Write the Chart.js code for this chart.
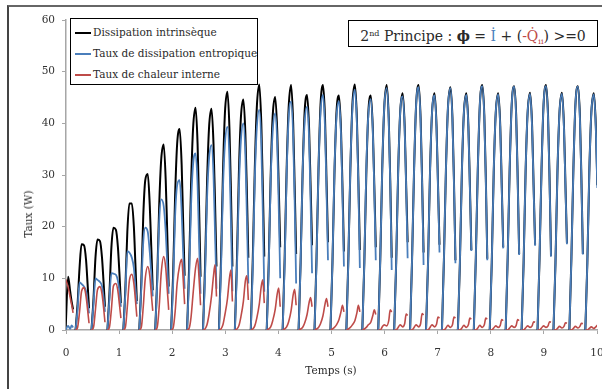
<!DOCTYPE html>
<html>
<head>
<meta charset="utf-8">
<script src="https://cdn.jsdelivr.net/npm/chart.js@4/dist/chart.umd.min.js"></script>
<style>
  html, body { margin: 0; padding: 0; background: #fff; }
  #wrap { position: relative; width: 602px; height: 389px; overflow: hidden; font-family: "DejaVu Serif", serif; color: #2a2a2a; }
  #frame { position: absolute; left: 7px; top: 5px; width: 700px; height: 500px; border-left: 2px solid #444; border-top: 2px solid #666; }
  canvas { position: absolute; left: 0; top: 0; }
  .legend { position: absolute; left: 70px; top: 18px; width: 186px; height: 65px; border: 1px solid #000; background: #fff; font-size: 10.5px; }
  .legend .row { position: absolute; left: 4px; height: 14px; line-height: 14px; white-space: nowrap; }
  .legend .swatch { display: inline-block; width: 16px; height: 2px; vertical-align: middle; margin-right: 2px; }
  .formula { position: absolute; left: 348px; top: 20px; width: 248px; height: 25px; border: 1px solid #000; background: #fff; font-size: 14px; line-height: 25px; text-align: center; white-space: nowrap; }
  .formula sup { font-size: 8px; vertical-align: 5px; }
  .formula sub { font-size: 8px; vertical-align: -3px; }
  .xtitle { position: absolute; left: 0; width: 662px; top: 364px; text-align: center; font-size: 10.5px; }
  .ytitle { position: absolute; left: 28px; top: 214px; transform: translate(-50%, -50%) rotate(-90deg); font-size: 10.5px; white-space: nowrap; }
</style>
</head>
<body>
<div id="wrap">
  <div id="frame"></div>
  <canvas id="chart" width="602" height="389"></canvas>
  <div class="legend">
    <div class="row" style="top:6px"><span class="swatch" style="background:#000"></span>Dissipation intrinsèque</div>
    <div class="row" style="top:27px"><span class="swatch" style="background:#4a7ebb"></span>Taux de dissipation entropique</div>
    <div class="row" style="top:48px"><span class="swatch" style="background:#be4b48"></span>Taux de chaleur interne</div>
  </div>
  <div class="formula">2<sup>nd</sup> Principe : <b>ϕ</b> = <span style="color:#4a7ebb">İ</span> + (<span style="color:#be4b48">-Q̇<sub>ii</sub></span>) &gt;=0</div>
  <div class="xtitle">Temps (s)</div>
  <div class="ytitle">Taux (W)</div>
</div>
<script>
// peak time of each cycle (s) and sample offsets around the peak (s)
const cycleTimes = [0.04, 0.34, 0.64, 0.94, 1.24, 1.54, 1.84, 2.14, 2.44, 2.74, 3.04, 3.34,
  3.64, 3.94, 4.24, 4.54, 4.84, 5.14, 5.44, 5.74, 6.04, 6.34, 6.64, 6.94, 7.24, 7.54,
  7.84, 8.14, 8.44, 8.74, 9.04, 9.34, 9.64, 9.94];
const phase = [-0.16, -0.122, -0.085, -0.047, 0, 0.038, 0.066, 0.094];

// one row per cycle, values (W) at the offsets above; the curve stops after each row
const dissipation = [
  [null, null, null, 0.3, 10.3, 7.5, 5.5, 4.0],
  [0, 5, 12, 16.6, 16.4, 13.5, 9, 4.2],
  [0, 6, 14, 17.5, 17.2, 14, 9.5, 4.5],
  [0, 7, 16, 19.8, 19.4, 16, 11, 5.2],
  [0, 8, 19, 24.5, 24.5, 20, 13, 5.6],
  [0, 9, 22, 29, 30.2, 24, 16, 7.7],
  [0, 10, 24, 33, 35.9, 29, 19, 8.4],
  [0, 11, 26, 36, 38.9, 32, 21, 10.5],
  [0, 12, 28, 39, 43, 36, 24, 10.3],
  [0, 12, 28, 39, 42.8, 36, 25, 12.3],
  [0, 13, 30, 42, 46.1, 39, 27, 12.3],
  [0, 13, 30, 41, 44.6, 38, 27, 14],
  [0, 14, 31, 43, 47.5, 40, 28, 14.2],
  [0, 13, 30, 41.5, 45.1, 38.5, 28, 16],
  [0, 14, 31, 43, 47.4, 40, 28, 14.7],
  [0, 13, 30, 42, 45.5, 39, 28, 16.4],
  [0, 14, 31, 43.5, 47.4, 41, 29, 17],
  [0, 13, 30, 42, 45.4, 39, 28, 15.2],
  [0, 14, 31, 43.5, 47.5, 41, 29, 15.5],
  [0, 13, 30, 42, 45.4, 39, 28, 16],
  [0, 13.5, 31, 43, 47.4, 41, 29, 14],
  [0, 13, 30.5, 42, 45.8, 39.5, 28, 17],
  [0, 14, 31, 43.5, 47.4, 41, 29, 15],
  [0, 13, 30.5, 42, 45.8, 39.5, 28, 16.5],
  [0, 14, 31, 43, 47.0, 41, 29, 13.5],
  [0, 13, 30.5, 42, 45.8, 39.5, 28, 15.5],
  [0, 14, 31, 43.5, 47.4, 41.5, 29.5, 13.8],
  [0, 13, 30.5, 42, 45.8, 39.5, 28, 16],
  [0, 14, 31, 43.5, 47.2, 41.5, 29.5, 14.7],
  [0, 13, 30.5, 42, 45.9, 39.5, 28, 16.5],
  [0, 14, 31, 43.5, 47.4, 41.5, 29.5, 14.3],
  [0, 13, 30.5, 42, 45.9, 39.5, 28, 16.8],
  [0, 14, 31, 43.5, 47.2, 41.5, 29.5, 14.7],
  [0, 13, 30.5, 42, 45.8, 39.5, 28, 16.5]
];
const entropique = [
  [null, null, null, 0, 0.8, 0.2, 0.9, 0.5],
  [0, 4, 9.2, 8.9, 8.4, 7.5, 5.5, 3.2],
  [0, 5, 10, 9.7, 9.3, 8.5, 6.5, 3.5],
  [0, 6, 11, 10.9, 10.7, 9.5, 7.5, 4.5],
  [0, 7, 15.2, 15, 14, 12, 8.5, 5],
  [0, 8, 17, 19.8, 19, 15, 11, 6.5],
  [0, 9, 21, 25.3, 24, 19, 13, 7],
  [0, 9, 22, 28, 29, 23, 15, 8],
  [0, 10, 24, 32, 34.2, 28, 17, 7],
  [0, 10, 25, 33, 35.8, 30, 19, 8],
  [0, 11, 27, 36, 39.3, 33, 21, 7.5],
  [0, 11, 27, 36.5, 40, 34, 22, 9],
  [0, 12, 29, 39, 42.6, 36, 23, 7.4],
  [0, 12, 29, 38.5, 41.9, 36, 24, 10],
  [0, 12.5, 30, 41, 44.2, 37.5, 25, 9],
  [0, 12.5, 30, 40, 43.2, 37, 25, 11],
  [0, 13, 31, 42, 45.5, 39, 27, 13.5],
  [0, 13, 30.5, 41, 44.3, 38, 26.5, 12.3],
  [0, 13.5, 31.5, 42.5, 46.5, 40, 28, 12],
  [0, 13, 31, 41.5, 44.7, 38.5, 27, 13.5],
  [0, 13.5, 31, 43, 46.8, 40.5, 28.5, 11.6],
  [0, 13, 30.5, 42, 45.2, 39, 27.5, 13.9],
  [0, 14, 31, 43.5, 47, 40.5, 28.5, 12.6],
  [0, 13, 30.5, 42, 45.4, 39, 27.5, 15],
  [0, 14, 31, 43, 46.8, 40.5, 28.5, 12.9],
  [0, 13, 30.5, 42, 45.5, 39, 27.5, 15.3],
  [0, 14, 31, 43.5, 47.2, 41, 29, 13.5],
  [0, 13, 30.5, 42, 45.6, 39, 27.5, 15.8],
  [0, 14, 31, 43.5, 47.1, 41, 29, 14.5],
  [0, 13, 30.5, 42, 45.7, 39, 27.5, 16.3],
  [0, 14, 31, 43.5, 47.2, 41, 29, 14.2],
  [0, 13, 30.5, 42, 45.7, 39, 27.5, 16.6],
  [0, 14, 31, 43.5, 47.1, 41, 29, 14.6],
  [0, 13, 30.5, 42, 45.6, 39, 27.5, 16]
];
const chaleur = [
  [null, null, null, 9.8, 8.3, 6.3, 4.9, 3.3],
  [0, 0.5, 3.5, 7.5, 8.2, 6.5, 4, 1.3],
  [0, 0.5, 4, 7.8, 8.4, 7, 4.5, 1.5],
  [0, 0.5, 4, 8.5, 9, 7.5, 5, 2.3],
  [0, 0.5, 4.5, 9.5, 10.8, 9, 6, 2.6],
  [0, 0.5, 4.5, 10, 12.3, 10.5, 7, 3.7],
  [0, 0.5, 4.5, 11, 14.2, 12, 8, 3.9],
  [0, 0.4, 3.5, 9, 12.5, 13.7, 10, 5],
  [0, 0.3, 2.5, 7, 12, 13.9, 10, 4.8],
  [0, 0.2, 1, 3, 6.5, 10.5, 12.6, 6.5],
  [0, 0.2, 1, 3, 6, 10, 11.6, 5.5],
  [0, 0.2, 0.8, 2.5, 5.5, 9.5, 10.5, 5.8],
  [0, 0.2, 0.8, 2.3, 5, 8.5, 9.7, 5.2],
  [0, 0.2, 0.6, 1.8, 4, 7, 8.1, 4.5],
  [0, 0.2, 0.6, 1.6, 3.8, 6.8, 7.9, 4.8],
  [0, 0.2, 0.5, 1.3, 3, 5.3, 6.3, 4.5],
  [0, 0.2, 0.5, 1.2, 2.8, 5, 6.1, 4.5],
  [0, 0.2, 0.5, 1, 2, 3.5, 4.8, 3.5],
  [0, 0.2, 0.5, 1, 1.8, 3.3, 4.8, 3.5],
  [0, 0.2, 0.5, 1, 1.5, 2.8, 3.9, 3],
  [0, 0, 0.6, 1, 0.8, 1.8, 3.9, 3.5],
  [0, 0, 0.5, 1, 0.6, 1.2, 3.1, 2.8],
  [0, 0, 0.5, 1, 0.6, 1.2, 3.2, 2.9],
  [0, 0, 0.5, 1, 0.6, 1.1, 2.5, 2.3],
  [0, 0, 0.4, 0.9, 0.5, 1, 2.5, 2.3],
  [0, 0, 0.4, 0.9, 0.5, 1, 2.3, 2.1],
  [0, 0, 0.4, 0.9, 0.5, 1, 2.3, 2.1],
  [0, 0, 0.4, 0.8, 0.5, 0.9, 2, 1.8],
  [0, 0, 0.4, 0.8, 0.5, 0.9, 2, 1.8],
  [0, 0, 0.4, 0.8, 0.5, 0.8, 1.6, 1.5],
  [0, 0, 0.4, 0.8, 0.5, 0.8, 1.6, 1.5],
  [0, 0, 0.3, 0.7, 0.4, 0.7, 1.4, 1.3],
  [0, 0, 0.3, 0.7, 0.4, 0.7, 1.3, 1.2],
  [0, 0, 0.3, 0.6, 0.3, 0.6, 0.9, 0.7]
];
const xTicks = [0, 10, 1];   // min, max, step
const yTicks = [0, 60, 10];

// turn the cycle rows into points, with a gap after every cycle
function toPoints(rows) {
  const pts = [];
  rows.forEach((row, k) => {
    row.forEach((v, j) => pts.push({ x: cycleTimes[k] + phase[j], y: v }));
    pts.push({ x: cycleTimes[k] + phase[phase.length - 1] + 0.01, y: null });
  });
  return pts;
}

const axisGrey = '#a6a6a6';
const tickFont = { family: 'DejaVu Serif', size: 10.5 };

new Chart(document.getElementById('chart'), {
  type: 'line',
  data: {
    datasets: [
      { label: 'Dissipation intrinsèque', data: toPoints(dissipation), borderColor: '#000', borderWidth: 2, order: 3 },
      { label: 'Taux de dissipation entropique', data: toPoints(entropique), borderColor: '#4a7ebb', borderWidth: 1.8, order: 2 },
      { label: 'Taux de chaleur interne', data: toPoints(chaleur), borderColor: '#be4b48', borderWidth: 1.6, order: 1 }
    ]
  },
  options: {
    responsive: false,
    devicePixelRatio: 1,
    animation: false,
    spanGaps: false,
    elements: {
      point: { radius: 0 },
      line: { cubicInterpolationMode: 'monotone', fill: false }
    },
    layout: { padding: { top: 20, right: 5, left: 0, bottom: 0 } },
    plugins: { legend: { display: false }, tooltip: { enabled: false } },
    scales: {
      x: {
        type: 'linear',
        min: xTicks[0], max: xTicks[1],
        afterFit: s => { s.height = 59; s.paddingLeft = 0; s.paddingRight = 0; },
        border: { color: axisGrey, width: 1.5 },
        grid: { drawOnChartArea: false, color: axisGrey, tickLength: 4 },
        ticks: { stepSize: xTicks[2], color: '#333', font: tickFont, padding: 13, maxRotation: 0 }
      },
      y: {
        min: yTicks[0], max: yTicks[1],
        afterFit: s => { s.width = 66; s.paddingTop = 0; s.paddingBottom = 0; },
        border: { color: axisGrey, width: 1.5 },
        grid: { drawOnChartArea: false, color: axisGrey, tickLength: 4 },
        ticks: { stepSize: yTicks[2], color: '#333', font: tickFont, padding: 7 }
      }
    }
  }
});
</script>
</body>
</html>
